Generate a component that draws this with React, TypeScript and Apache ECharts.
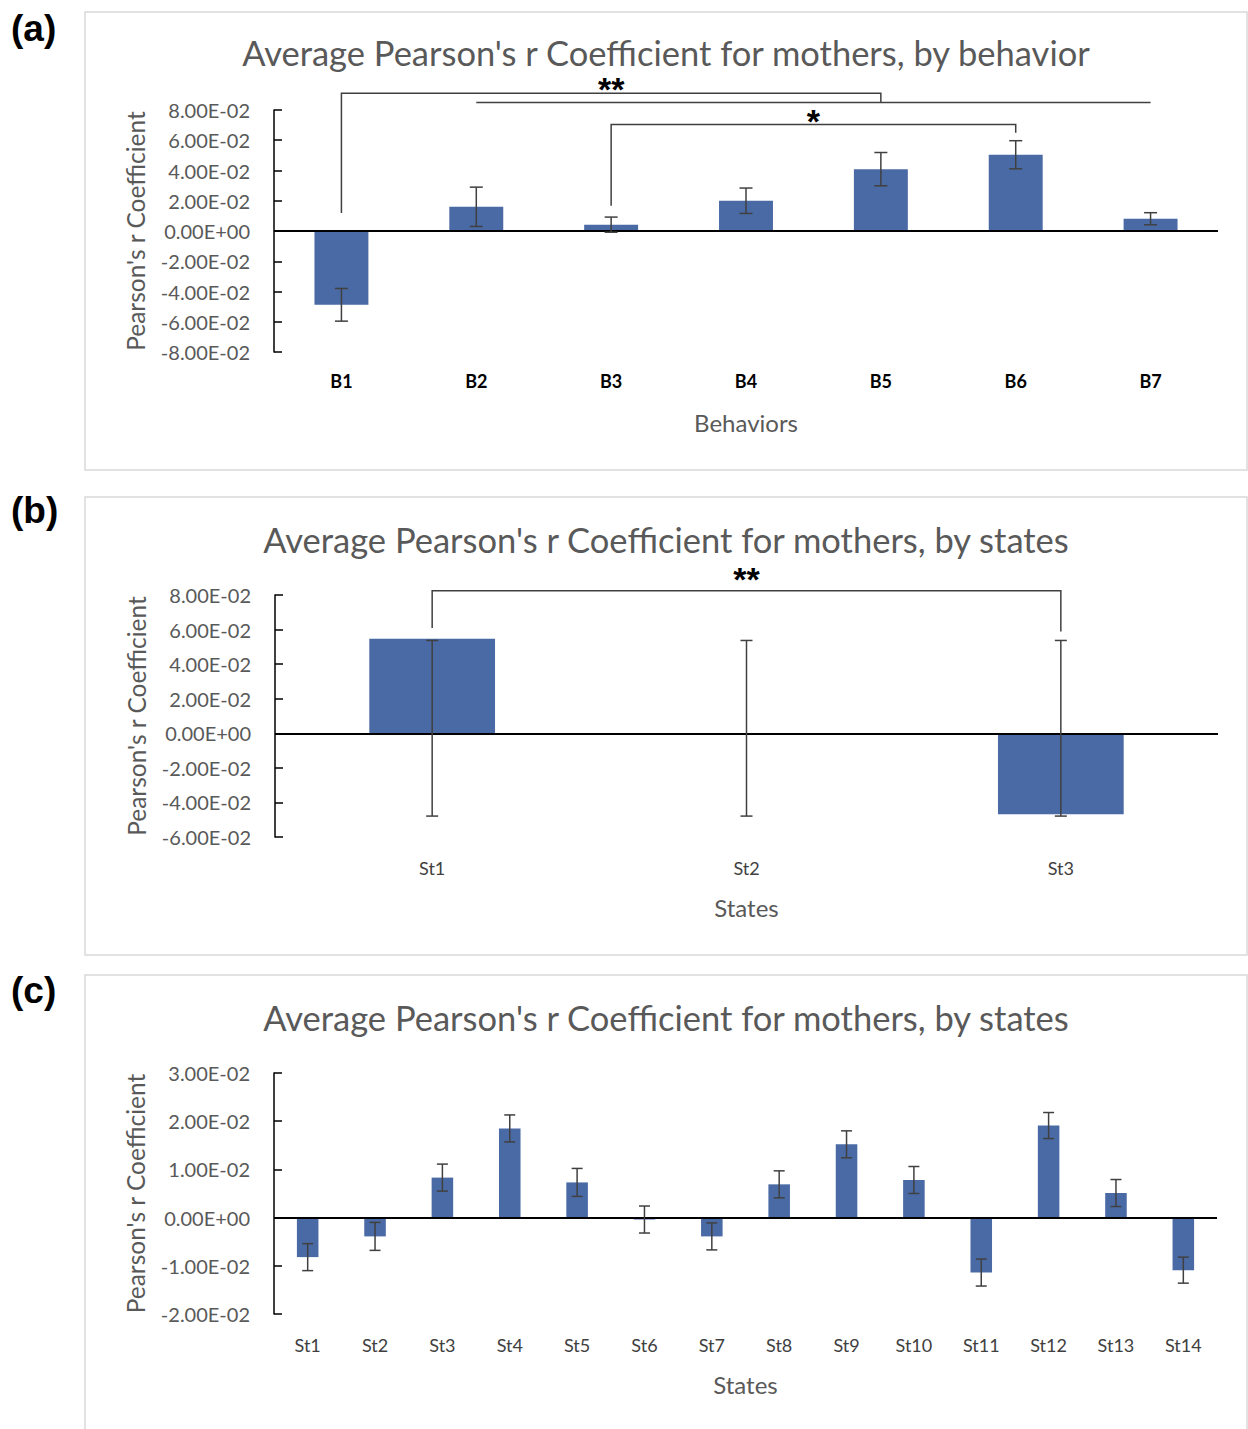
import React, { useEffect, useRef } from "react";
import * as echarts from "echarts";

// ---------- DATA ----------
const behaviors = ["B1", "B2", "B3", "B4", "B5", "B6", "B7"];
const behaviorMeans = [-0.0488, 0.016, 0.0042, 0.02, 0.0409, 0.0504, 0.0081];
const behaviorErr = [0.0108, 0.013, 0.005, 0.0084, 0.011, 0.0093, 0.004];

const states3 = ["St1", "St2", "St3"];
const states3Means = [0.0547, 0, -0.0468];
const states3ErrHigh = [0.0537, 0.0537, 0.0537];
const states3ErrLow = [-0.0479, -0.0479, -0.0479];

const states14 = ["St1", "St2", "St3", "St4", "St5", "St6", "St7", "St8", "St9", "St10", "St11", "St12", "St13", "St14"];
const states14Means = [-0.0082, -0.0039, 0.0083, 0.0185, 0.0073, -0.0004, -0.0039, 0.0069, 0.0152, 0.0078, -0.0114, 0.0191, 0.0051, -0.0109];
const states14Err = [0.0028, 0.0029, 0.0028, 0.0028, 0.0029, 0.0028, 0.0028, 0.0028, 0.0028, 0.0028, 0.0028, 0.0027, 0.0028, 0.0027];

// significance brackets: category indices, y levels (data units), label
const behaviorBrackets = [
  { from: 0, to: 4, top: 0.0911, footFrom: 0.0119, footTo: 0.0851, label: "**" },
  { from: 1, to: 6, top: 0.0849, footFrom: 0.0849, footTo: 0.0849, label: "" },
  { from: 2, to: 5, top: 0.0704, footFrom: 0.0167, footTo: 0.0649, label: "*" },
];
const states3Brackets = [
  { from: 0, to: 2, top: 0.0825, footFrom: 0.0609, footTo: 0.0589, label: "**" },
];

const titles = [
  "Average Pearson's r Coefficient for mothers, by behavior",
  "Average Pearson's r Coefficient for mothers, by states",
  "Average Pearson's r Coefficient for mothers, by states",
];
const panelLabels = ["(a)", "(b)", "(c)"];
const xNames = ["Behaviors", "States", "States"];
const yName = "Pearson's r Coefficient";

// ---------- STYLE ----------
const FONT = "Lato";
const BAR = "#4a6aa5";
const GRAY = "#595959";
const ERR = "#404040";

const sci = (v: number) => {
  if (Math.abs(v) < 1e-12) v = 0;
  const s = v.toExponential(2);
  const [m, e] = s.split("e");
  const en = parseInt(e, 10);
  return `${m}E${en < 0 ? "-" : "+"}${String(Math.abs(en)).padStart(2, "0")}`;
};

const panels = [
  { box: [85, 12, 1162, 458], title: 52, label: 28, grid: { left: 274, top: 110, width: 944, height: 242 }, min: -0.08, max: 0.08, interval: 0.02, cats: behaviors, barWidth: "40%", cap: 6.5, xBold: true, labelGap: 4 },
  { box: [85, 497, 1162, 458], title: 539, label: 510, grid: { left: 275, top: 595, width: 943, height: 242 }, min: -0.06, max: 0.08, interval: 0.02, cats: states3, barWidth: "40%", cap: 6, xBold: false, labelGap: 12 },
  { box: [85, 975, 1162, 470], title: 1017, label: 990, grid: { left: 274, top: 1073, width: 943, height: 241 }, min: -0.02, max: 0.03, interval: 0.01, cats: states14, barWidth: "32%", cap: 5.5, xBold: false, labelGap: 10 },
];

const errorData = [
  behaviorMeans.map((m, i) => [i, m - behaviorErr[i], m + behaviorErr[i]]),
  states3Means.map((_, i) => [i, states3ErrLow[i], states3ErrHigh[i]]),
  states14Means.map((m, i) => [i, m - states14Err[i], m + states14Err[i]]),
];
const meansList = [behaviorMeans, states3Means, states14Means];
const bracketList = [behaviorBrackets, states3Brackets, []];

export default function App() {
  const ref = useRef<HTMLDivElement>(null);
  useEffect(() => {
    if (!ref.current) return;
    const chart = echarts.init(ref.current, undefined, { renderer: "svg" });

    const grids: any[] = [];
    const xAxes: any[] = [];
    const yAxes: any[] = [];
    const series: any[] = [];
    const graphics: any[] = [];

    panels.forEach((p, k) => {
      grids.push({ ...p.grid });
      xAxes.push({
        type: "category",
        gridIndex: k,
        data: p.cats,
        axisLine: { show: false, onZero: false },
        axisTick: { show: false },
        axisLabel: {
          margin: p.xBold ? 20 : 22,
          fontFamily: FONT,
          fontSize: 18,
          color: p.xBold ? "#000" : "#404040",
          fontWeight: p.xBold ? "bold" : "normal",
        },
        name: xNames[k],
        nameLocation: "middle",
        nameGap: 58,
        nameTextStyle: { fontFamily: FONT, fontSize: 24, color: GRAY },
      });
      yAxes.push({
        type: "value",
        gridIndex: k,
        min: p.min,
        max: p.max,
        interval: p.interval,
        splitLine: { show: false },
        axisLine: { show: true, lineStyle: { color: "#000", width: 1.5 } },
        axisTick: { show: true, inside: true, length: 8, lineStyle: { color: "#000", width: 1.5 } },
        axisLabel: { margin: 24, fontFamily: FONT, fontSize: 20, color: GRAY, formatter: sci },
        name: yName,
        nameLocation: "middle",
        nameGap: 126,
        nameTextStyle: { fontFamily: FONT, fontSize: 24.5, color: GRAY },
      });
      series.push({
        type: "bar",
        xAxisIndex: k,
        yAxisIndex: k,
        data: meansList[k],
        barWidth: p.barWidth,
        itemStyle: { color: BAR },
        markLine: {
          silent: true,
          symbol: ["none", "none"],
          label: { show: false },
          lineStyle: { color: "#000", width: 2, type: "solid" },
          data: [{ yAxis: 0 }],
        },
        z: 2,
      });
      const cap = p.cap;
      series.push({
        type: "custom",
        xAxisIndex: k,
        yAxisIndex: k,
        data: errorData[k],
        encode: { x: 0, y: [1, 2] },
        z: 5,
        renderItem: (params: any, api: any) => {
          const x = api.value(0);
          const lo = api.coord([x, api.value(1)]);
          const hi = api.coord([x, api.value(2)]);
          const st = { stroke: ERR, lineWidth: 1.5 };
          return {
            type: "group",
            children: [
              { type: "line", shape: { x1: lo[0], y1: lo[1], x2: hi[0], y2: hi[1] }, style: st },
              { type: "line", shape: { x1: lo[0] - cap, y1: lo[1], x2: lo[0] + cap, y2: lo[1] }, style: st },
              { type: "line", shape: { x1: hi[0] - cap, y1: hi[1], x2: hi[0] + cap, y2: hi[1] }, style: st },
            ],
          };
        },
      });
      const br = bracketList[k];
      if (br.length) {
        const gap = p.labelGap;
        series.push({
          type: "custom",
          xAxisIndex: k,
          yAxisIndex: k,
          clip: false,
          data: br.map((b) => [b.from, b.top]),
          z: 6,
          renderItem: (params: any, api: any) => {
            const b = br[params.dataIndex];
            const a1 = api.coord([b.from, b.footFrom]);
            const a2 = api.coord([b.from, b.top]);
            const a3 = api.coord([b.to, b.top]);
            const a4 = api.coord([b.to, b.footTo]);
            const children: any[] = [
              {
                type: "polyline",
                shape: { points: [a1, a2, a3, a4] },
                style: { stroke: ERR, lineWidth: 1.5, fill: "none" },
              },
            ];
            if (b.label) {
              children.push({
                type: "text",
                x: (a2[0] + a3[0]) / 2,
                y: a2[1] - gap,
                style: {
                  text: b.label,
                  fill: "#000",
                  font: 'bold 34px "Liberation Sans"',
                  lineHeight: 14,
                  textAlign: "center",
                  textVerticalAlign: "middle",
                },
              });
            }
            return { type: "group", children };
          },
        });
      }
      graphics.push({
        type: "rect",
        shape: { x: p.box[0], y: p.box[1], width: p.box[2], height: p.box[3] },
        style: { fill: "none", stroke: "#d9d9d9", lineWidth: 1.5 },
        z: -10,
      });
      graphics.push({
        type: "text",
        x: (p.box[0] + p.box[0] + p.box[2]) / 2,
        y: p.title,
        style: {
          text: titles[k],
          fill: GRAY,
          font: `34.5px ${FONT}`,
          textAlign: "center",
          textVerticalAlign: "middle",
        },
      });
      graphics.push({
        type: "text",
        x: 11,
        y: p.label,
        style: {
          text: panelLabels[k],
          fill: "#000",
          font: 'bold 37px "Liberation Sans"',
          textAlign: "left",
          textVerticalAlign: "middle",
        },
      });
    });

    chart.setOption({
      animation: false,
      backgroundColor: "#fff",
      grid: grids,
      xAxis: xAxes,
      yAxis: yAxes,
      series,
      graphic: graphics,
    });
    return () => chart.dispose();
  }, []);
  return (
    <div
      ref={ref}
      style={{ position: "absolute", left: 0, top: 0, width: 1248, height: 1429, background: "#fff" }}
    />
  );
}
